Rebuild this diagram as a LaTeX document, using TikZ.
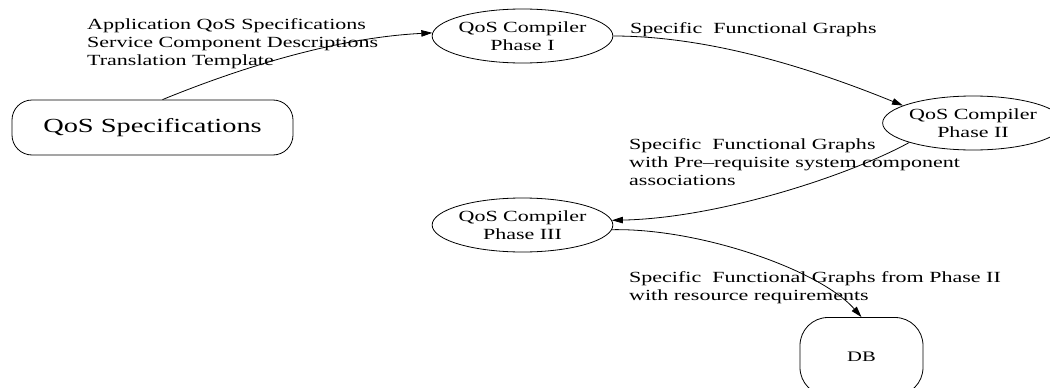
\documentclass[tikz,border=0pt]{standalone}
\usepackage{fontspec}
\setmainfont{Liberation Serif}[FakeStretch=1.42]
\usetikzlibrary{shapes.geometric,arrows.meta}

\tikzset{
  phase/.style={draw, ellipse, line width=0.8pt, minimum width=180pt, minimum height=54pt,
    inner sep=0pt, align=center, font=\fontsize{15.5}{18}\selectfont},
  store/.style={draw, line width=0.8pt, inner sep=0pt, align=center},
  flow/.style={line width=0.8pt, -{Triangle[length=11pt,width=6.5pt]}},
  note/.style={inner sep=0pt, align=left, font=\fontsize{15.5}{17.8}\selectfont}
}

\begin{document}
\begin{tikzpicture}[x=1pt,y=-1pt]
  \useasboundingbox (0,0) rectangle (1050,388);

  % stores
  \node[store, minimum width=281pt, minimum height=55pt, rounded corners=20pt,
        font=\fontsize{20}{24}\selectfont] (spec) at (152.5,127.5) {QoS Specifications};
  \node[store, minimum width=123pt, minimum height=78pt, rounded corners=28pt,
        font=\fontsize{14.5}{17}\selectfont] (db) at (861.5,356.5) {DB};

  % compiler phases
  \node[phase] (p1) at (522.5,36)  {QoS Compiler\\Phase I};
  \node[phase] (p2) at (973,123)   {QoS Compiler\\Phase II};
  \node[phase] (p3) at (522.5,225) {QoS Compiler\\Phase III};

  % flows between stages
  \draw[flow] ([xshift=10pt]spec.north) .. controls (230,72) and (330,38) .. (p1.178);
  \draw[flow] (p1.east) .. controls (720,36) and (830,76) .. (p2.166);
  \draw[flow] (p2.197) .. controls (850,175) and (720,218) .. (p3.3);
  \draw[flow] (p3.-3) .. controls (700,228) and (820,270) .. (db.north);

  % flow annotations
  \node[note, anchor=north west] (n1) at (87,18.3)
    {Application QoS Specifications\\Service Component Descriptions\\Translation Template};
  \node[note, anchor=base west] (n2) at (630,34) {Specific\ \ Functional Graphs};
  \node[note, anchor=north west] (n3) at (629,138.5)
    {Specific\ \ Functional Graphs\\with Pre--requisite system component\\associations};
  \node[note, anchor=north west] (n4) at (629,271.5)
    {Specific\ \ Functional Graphs from Phase II\\with resource requirements};
\end{tikzpicture}
\end{document}
